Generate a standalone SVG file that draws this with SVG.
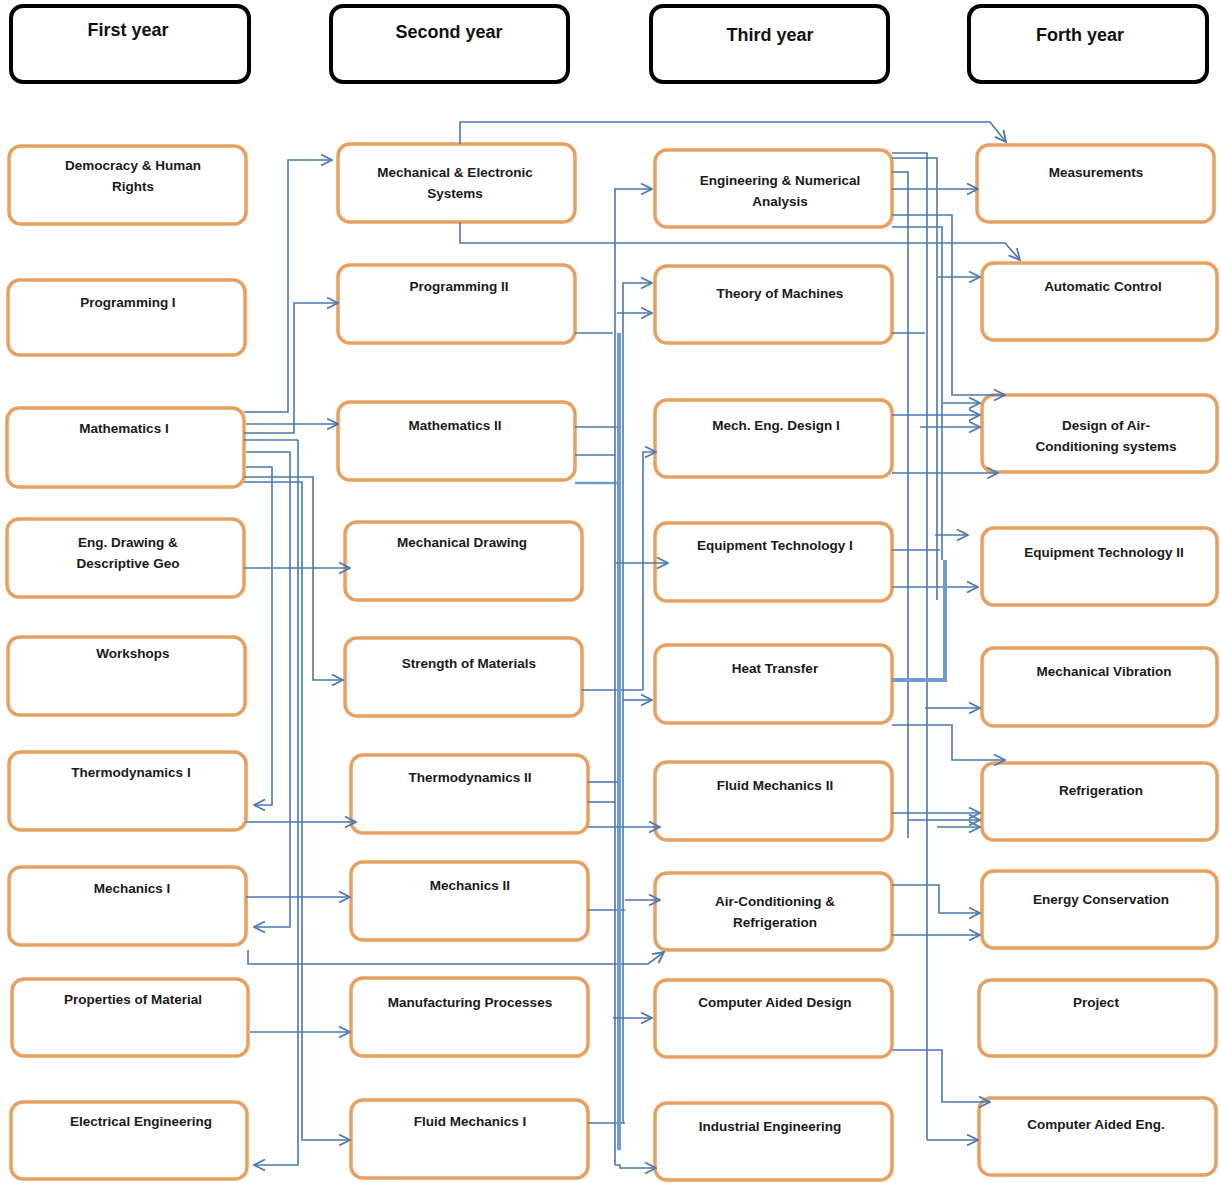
<svg xmlns="http://www.w3.org/2000/svg" width="1220" height="1183" viewBox="0 0 1220 1183">
<style>
.hd rect{fill:#fff;stroke:#000;stroke-width:4}
.hd text{font-family:"Liberation Sans",Arial,sans-serif;font-size:18px;font-weight:bold;fill:#111;text-anchor:middle}
.nd rect{fill:#fff;stroke:#E8A060;stroke-width:3.5}
.nd text{font-family:"Liberation Sans",Arial,sans-serif;font-size:13.5px;font-weight:bold;fill:#1a1a1a;text-anchor:middle}
.cn path{fill:none;stroke:#4A78B0;stroke-width:1.6}
.cn path.a{marker-end:url(#ar)}
.cn path.band{stroke:#6F9BD0;stroke-width:4}
</style>
<defs>
<marker id="ar" viewBox="0 0 14 14" refX="13" refY="7" markerWidth="14" markerHeight="14" markerUnits="userSpaceOnUse" orient="auto">
<path d="M2,1.5 L13,7 L2,12.5" fill="none" stroke="#4A78B0" stroke-width="1.8"/>
</marker>
</defs>
<rect width="1220" height="1183" fill="#fff"/>

<g id="h1" class="hd"><rect x="11" y="6" width="238" height="76" rx="12"/><text x="128" y="36">First year</text></g>
<g id="h2" class="hd"><rect x="331" y="6" width="237" height="76" rx="12"/><text x="449" y="38">Second year</text></g>
<g id="h3" class="hd"><rect x="651" y="6" width="237" height="76" rx="12"/><text x="770" y="41">Third year</text></g>
<g id="h4" class="hd"><rect x="969" y="6" width="238" height="76" rx="12"/><text x="1080" y="41">Forth year</text></g>

<g id="c1n1" class="nd"><rect x="9" y="146" width="237" height="78" rx="12"/><text x="133" y="170">Democracy &amp; Human</text><text x="133" y="191">Rights</text></g>
<g id="c1n2" class="nd"><rect x="8" y="280" width="237" height="75" rx="12"/><text x="128" y="307">Programming I</text></g>
<g id="c1n3" class="nd"><rect x="7" y="408" width="237" height="79" rx="12"/><text x="124" y="433">Mathematics I</text></g>
<g id="c1n4" class="nd"><rect x="7" y="519" width="237" height="78" rx="12"/><text x="128" y="547">Eng. Drawing &amp;</text><text x="128" y="568">Descriptive Geo</text></g>
<g id="c1n5" class="nd"><rect x="8" y="637" width="237" height="78" rx="12"/><text x="133" y="658">Workshops</text></g>
<g id="c1n6" class="nd"><rect x="9" y="752" width="237" height="78" rx="12"/><text x="131" y="777">Thermodynamics I</text></g>
<g id="c1n7" class="nd"><rect x="9" y="867" width="237" height="78" rx="12"/><text x="132" y="893">Mechanics I</text></g>
<g id="c1n8" class="nd"><rect x="12" y="979" width="236" height="77" rx="12"/><text x="133" y="1004">Properties of Material</text></g>
<g id="c1n9" class="nd"><rect x="11" y="1102" width="236" height="77" rx="12"/><text x="141" y="1126">Electrical Engineering</text></g>

<g id="c2n1" class="nd"><rect x="338" y="144" width="237" height="78" rx="12"/><text x="455" y="177">Mechanical &amp; Electronic</text><text x="455" y="198">Systems</text></g>
<g id="c2n2" class="nd"><rect x="338" y="265" width="237" height="78" rx="12"/><text x="459" y="291">Programming II</text></g>
<g id="c2n3" class="nd"><rect x="338" y="402" width="237" height="78" rx="12"/><text x="455" y="430">Mathematics II</text></g>
<g id="c2n4" class="nd"><rect x="345" y="522" width="237" height="78" rx="12"/><text x="462" y="547">Mechanical Drawing</text></g>
<g id="c2n5" class="nd"><rect x="345" y="638" width="237" height="78" rx="12"/><text x="469" y="668">Strength of Materials</text></g>
<g id="c2n6" class="nd"><rect x="351" y="755" width="237" height="78" rx="12"/><text x="470" y="782">Thermodynamics II</text></g>
<g id="c2n7" class="nd"><rect x="351" y="862" width="237" height="78" rx="12"/><text x="470" y="890">Mechanics II</text></g>
<g id="c2n8" class="nd"><rect x="351" y="978" width="237" height="78" rx="12"/><text x="470" y="1007">Manufacturing Processes</text></g>
<g id="c2n9" class="nd"><rect x="351" y="1100" width="237" height="78" rx="12"/><text x="470" y="1126">Fluid Mechanics I</text></g>

<g id="c3n1" class="nd"><rect x="655" y="150" width="237" height="77" rx="12"/><text x="780" y="185">Engineering &amp; Numerical</text><text x="780" y="206">Analysis</text></g>
<g id="c3n2" class="nd"><rect x="655" y="266" width="237" height="77" rx="12"/><text x="780" y="298">Theory of Machines</text></g>
<g id="c3n3" class="nd"><rect x="655" y="400" width="237" height="77" rx="12"/><text x="776" y="430">Mech. Eng. Design I</text></g>
<g id="c3n4" class="nd"><rect x="655" y="523" width="237" height="78" rx="12"/><text x="775" y="550">Equipment Technology I</text></g>
<g id="c3n5" class="nd"><rect x="655" y="645" width="237" height="78" rx="12"/><text x="775" y="673">Heat Transfer</text></g>
<g id="c3n6" class="nd"><rect x="655" y="762" width="237" height="78" rx="12"/><text x="775" y="790">Fluid Mechanics II</text></g>
<g id="c3n7" class="nd"><rect x="655" y="873" width="237" height="77" rx="12"/><text x="775" y="906">Air-Conditioning &amp;</text><text x="775" y="927">Refrigeration</text></g>
<g id="c3n8" class="nd"><rect x="655" y="980" width="237" height="77" rx="12"/><text x="775" y="1007">Computer Aided Design</text></g>
<g id="c3n9" class="nd"><rect x="655" y="1103" width="237" height="77" rx="12"/><text x="770" y="1131">Industrial Engineering</text></g>

<g id="c4n1" class="nd"><rect x="977" y="145" width="237" height="77" rx="12"/><text x="1096" y="177">Measurements</text></g>
<g id="c4n2" class="nd"><rect x="982" y="263" width="235" height="77" rx="12"/><text x="1103" y="291">Automatic Control</text></g>
<g id="c4n3" class="nd"><rect x="982" y="395" width="235" height="77" rx="12"/><text x="1106" y="430">Design of Air-</text><text x="1106" y="451">Conditioning systems</text></g>
<g id="c4n4" class="nd"><rect x="982" y="528" width="235" height="77" rx="12"/><text x="1104" y="557">Equipment Technology II</text></g>
<g id="c4n5" class="nd"><rect x="982" y="648" width="235" height="78" rx="12"/><text x="1104" y="676">Mechanical Vibration</text></g>
<g id="c4n6" class="nd"><rect x="982" y="763" width="235" height="77" rx="12"/><text x="1101" y="795">Refrigeration</text></g>
<g id="c4n7" class="nd"><rect x="982" y="871" width="235" height="77" rx="12"/><text x="1101" y="904">Energy Conservation</text></g>
<g id="c4n8" class="nd"><rect x="979" y="980" width="237" height="76" rx="12"/><text x="1096" y="1007">Project</text></g>
<g id="c4n9" class="nd"><rect x="979" y="1098" width="237" height="77" rx="12"/><text x="1096" y="1129">Computer Aided Eng.</text></g>

<g id="connectors" class="cn">
<path class="a" d="M244,412 H288 V160 H332"/>
<path class="a" d="M244,433 H294 V303 H338"/>
<path class="a" d="M246,424 H338"/>
<path d="M244,440 H298"/>
<path class="a" d="M246,452 H290 V927 H254"/>
<path class="a" d="M246,467 H272 V805 H254"/>
<path class="a" d="M244,477 H313 V680 H343"/>
<path class="a" d="M244,482 H302 V1140 H350"/>
<path class="a" d="M298,440 V1165 H254"/>
<path class="a" d="M244,568 H350"/>
<path class="a" d="M246,822 H356"/>
<path class="a" d="M246,897 H350"/>
<path class="a" d="M250,1032 H350"/>
<path class="a" d="M248,950 V964 H648 L664,952"/>
<path class="a" d="M460,144 V122 H990 L1006,142"/>
<path class="a" d="M460,222 V243 H1005 L1020,260"/>
<path d="M575,333 H613"/>
<path d="M575,427 H620"/>
<path d="M575,455 H615"/>
<path d="M575,483 H618" style="stroke:#6F9BD0;stroke-width:2.5"/>
<path d="M582,690 H643"/>
<path d="M588,782 H620"/>
<path d="M588,802 H615"/>
<path d="M588,910 H625"/>
<path d="M588,1123 H625"/>
<path class="band" d="M619,333 V1150"/>
<path class="a" d="M615,1165 V189 H652"/>
<path class="a" d="M623,1123 V283 H652"/>
<path class="a" d="M617,313 H652"/>
<path class="a" d="M643,690 V452 H656"/>
<path class="a" d="M615,563 H668"/>
<path class="a" d="M623,700 H652"/>
<path class="a" d="M588,827 H660"/>
<path class="a" d="M625,900 H660"/>
<path class="a" d="M613,1018 H652"/>
<path class="a" d="M615,1165 H620 V1168 H656"/>
<path d="M892,153 H927 V1140"/>
<path d="M892,158 H937 V600"/>
<path d="M892,172 H908 V838"/>
<path class="a" d="M892,189 H978"/>
<path class="a" d="M892,215 H952 V395 H1005"/>
<path d="M892,227 H942 V560"/>
<path class="a" d="M938,277 H980"/>
<path d="M892,333 H925"/>
<path class="a" d="M943,403 H980"/>
<path class="a" d="M892,415 H980"/>
<path class="a" d="M920,427 H980"/>
<path class="a" d="M892,473 H998"/>
<path class="a" d="M935,535 H968"/>
<path d="M892,550 H940"/>
<path class="a" d="M892,587 H978"/>
<path class="band" d="M892,680 H945 V560"/>
<path class="a" d="M925,708 H980"/>
<path class="a" d="M892,725 H952 V760 H1005"/>
<path class="a" d="M892,813 H980"/>
<path class="a" d="M908,820 H980"/>
<path class="a" d="M937,827 H980"/>
<path class="a" d="M892,885 H939 V913 H980"/>
<path class="a" d="M892,935 H980"/>
<path class="a" d="M892,1050 H942 V1102 H990"/>
<path class="a" d="M927,1140 H978"/>
</g>
</svg>
